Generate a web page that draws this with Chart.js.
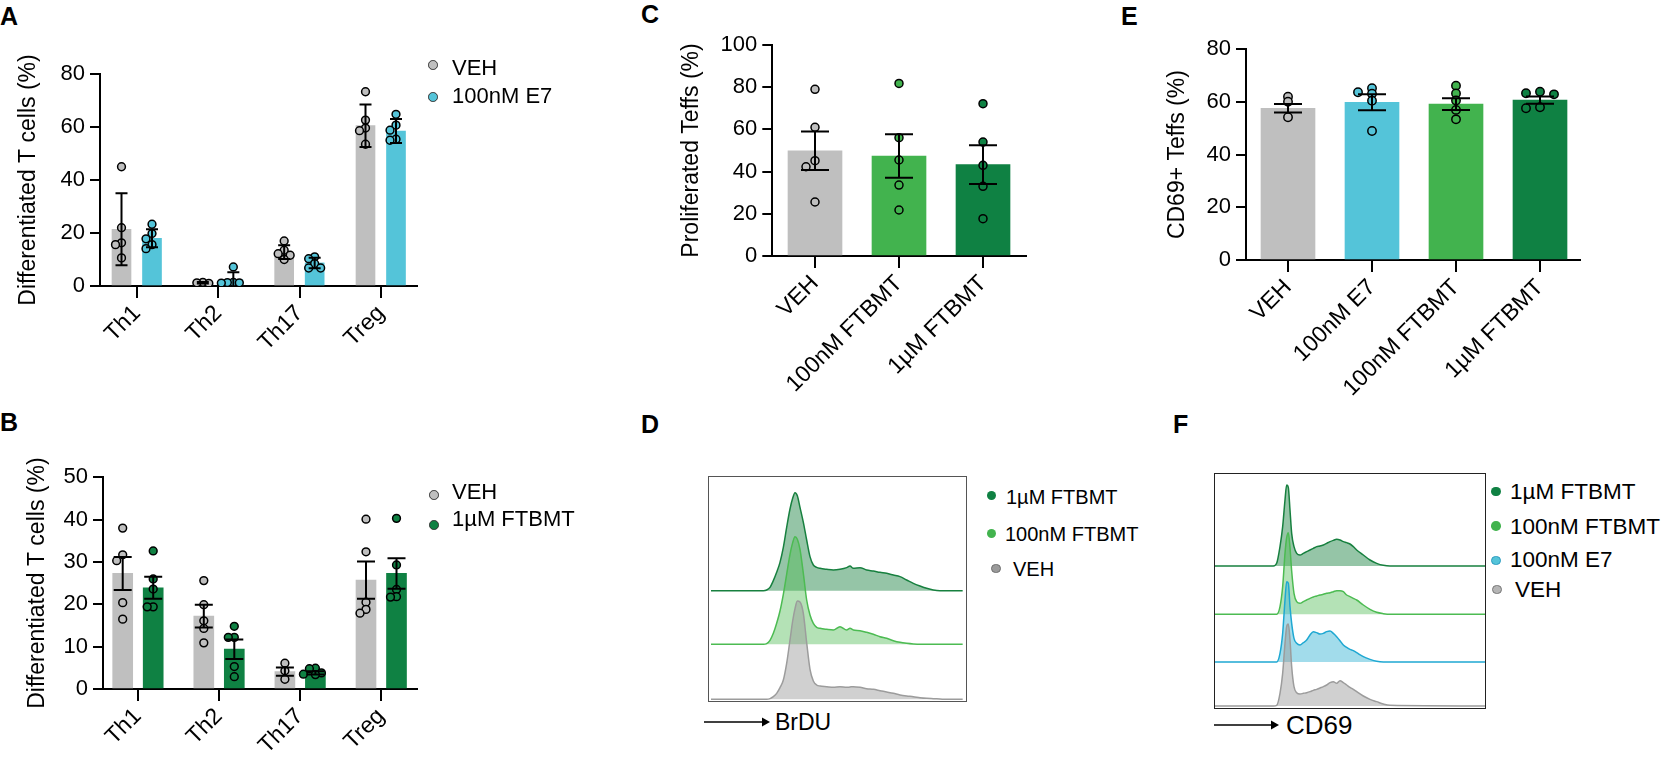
<!DOCTYPE html>
<html><head><meta charset="utf-8">
<script src="https://cdn.jsdelivr.net/npm/chart.js@4.4.1/dist/chart.umd.min.js"></script>
<style>
body{margin:0;background:#fff;width:1669px;height:761px;overflow:hidden;position:relative;font-family:'Liberation Sans',Arial,sans-serif;color:#000}
canvas{position:absolute}
.lbl{position:absolute;font-weight:bold;font-size:25px;line-height:25px}
.txt{position:absolute;white-space:nowrap}
.dot{position:absolute;border-radius:50%;box-sizing:border-box}
.box{position:absolute;box-sizing:border-box}
</style></head><body>
<div class="lbl" style="left:0px;top:3.5px">A</div>
<div class="lbl" style="left:0px;top:410px">B</div>
<div class="lbl" style="left:641px;top:1.5px">C</div>
<div class="lbl" style="left:641px;top:411.5px">D</div>
<div class="lbl" style="left:1121px;top:3.5px">E</div>
<div class="lbl" style="left:1173px;top:411.5px">F</div>
<svg style="position:absolute;left:0;top:0" width="1669" height="761">
  <line x1="704" y1="722" x2="764" y2="722" stroke="#000" stroke-width="1.6"/>
  <polygon points="762,717.5 770,722 762,726.5" fill="#000"/>
  <line x1="1214" y1="725" x2="1273" y2="725" stroke="#000" stroke-width="1.6"/>
  <polygon points="1271,720.5 1279,725 1271,729.5" fill="#000"/>
</svg>
<script>
Chart.defaults.font.family = "'Liberation Sans', Arial, sans-serif";
Chart.defaults.color = '#000';

// ---------------- DATA ----------------
const thCats = ['Th1', 'Th2', 'Th17', 'Treg'];
// Panel A (mean ± SD)
const aVehMean = [21.4, 1.2, 12.8, 60.5];
const aVehSD   = [13.6, 0.3, 2.6, 8.0];
const aVehPts  = [[45.0, 22.0, 16.3, 15.6, 10.6], [1.4, 1.2, 1.0], [17.0, 13.5, 12.2, 11.6, 10.0], [73.3, 62.6, 59.6, 58.6, 53.5]];
const aE7Mean  = [18.0, 2.4, 8.7, 58.5];
const aE7SD    = [3.4, 2.8, 2.0, 4.5];
const aE7Pts   = [[23.3, 19.8, 17.8, 15.6, 14.1], [7.2, 1.4, 1.3, 1.2, 1.1], [11.0, 10.3, 8.4, 6.8, 6.8], [64.8, 60.7, 58.8, 55.4, 55.0]];
// Panel B (mean ± SEM)
const bVehMean = [27.3, 17.2, 4.1, 25.7];
const bVehSEM  = [3.9, 2.7, 1.0, 4.4];
const bVehPts  = [[38.0, 31.7, 30.3, 20.4, 16.5], [25.6, 19.9, 16.1, 14.3, 10.9], [6.1, 4.3, 2.3], [40.1, 32.4, 20.5, 18.8, 17.9]];
const bFtMean  = [23.9, 9.4, 3.8, 27.3];
const bFtSEM   = [2.6, 2.3, 0.4, 3.6];
const bFtPts   = [[32.6, 26.0, 23.6, 19.4, 19.4], [14.8, 12.2, 12.2, 5.3, 2.9], [4.9, 4.8, 3.8, 3.5, 3.4], [40.3, 29.3, 23.5, 21.8, 21.7]];
// Panel C (mean ± SEM)
const cCats = ['VEH', '100nM FTBMT', '1µM FTBMT'];
const cMean = [49.9, 47.4, 43.3];
const cSEM  = [9.1, 10.3, 9.2];
const cPts  = [[79.0, 61.0, 45.2, 42.3, 25.6], [81.8, 56.1, 45.5, 33.6, 21.8], [72.2, 54.0, 43.0, 33.0, 17.7]];
// Panel E (mean ± SEM)
const eCats = ['VEH', '100nM E7', '100nM FTBMT', '1µM FTBMT'];
const eMean = [57.6, 59.9, 59.2, 60.7];
const eSEM  = [1.6, 3.0, 2.2, 1.4];
const ePts  = [[62.0, 60.1, 54.2], [65.2, 63.7, 63.1, 60.5, 49.0], [66.2, 63.2, 60.6, 57.0, 53.4], [63.9, 63.3, 62.9, 58.0, 57.6]];
// Panel D histograms (BrDU intensity, a.u.; counts)
const brduX    = [0,157,167,177,187,197,207,217,227,237,245,252,259,267,277,287,297,307,317,327,347,367,387,407,417,427,447,467,487,507,527,547,567,587,607,627,647,667,687,707,755];
const brduFt1  = [0,0,2,10,30,55,85,130,190,245,277,294,285,250,205,152,102,77,70,67,64,62,64,69,74,67,69,62,59,55,52,47,42,32,22,14,7,2,0,0,0];
const brduFt100= [0,0,2,12,33,63,100,150,210,270,305,323,315,285,213,133,88,63,51,48,45,43,53,43,48,43,41,36,30,23,18,11,6,3,1,0,0,0,0,0,0];
const brduVeh  = [0,0,0,2,8,18,35,58,108,178,235,272,295,292,258,170,90,55,43,40,38,36,38,36,37,38,36,32,30,26,22,18,13,10,8,5,3,2,1,0,0];
// Panel F histograms (CD69 intensity, a.u.; counts)
const cd69X    = [0,178,188,198,206,213,218,223,228,233,240,248,258,268,278,288,298,308,318,328,338,348,358,368,378,388,398,408,418,428,448,468,488,508,528,813];
const cd69Ft1  = [0,0,8,58,118,198,243,235,168,98,58,38,33,38,43,48,53,58,60,63,68,73,77,80,78,73,70,66,58,48,33,18,8,2,0,0];
const cd69Ft100= [0,0,0,23,83,183,230,245,200,130,63,38,33,38,43,48,52,55,58,60,63,65,68,71,71,68,58,53,48,43,28,15,6,2,0,0];
const cd69E7   = [0,0,0,26,86,186,241,236,166,116,71,56,51,58,66,81,91,88,84,86,91,93,86,76,64,51,44,38,34,28,16,8,2,0,0,0];
const cd69Veh  = [0,0,2,38,98,188,238,246,198,118,58,40,36,38,40,43,47,50,54,58,63,70,73,68,76,70,63,56,50,43,30,20,13,6,2,0];

// ---------------- STYLE ----------------
const GREY = '#BFBFBF', CYAN = '#54C4D9', LGREEN = '#42B34E', DGREEN = '#0F8143';

function swarm(points, ys, ppu, thr, step) {
  const placed = [];
  const idx = points.map((p, i) => i).sort((a, b) => points[b].y - points[a].y);
  for (const i of idx) {
    const p = points[i];
    const py = ys.getPixelForValue(p.y);
    let k = 0, off = 0;
    for (;;) {
      off = k === 0 ? 0 : (k % 2 ? -1 : 1) * Math.ceil(k / 2) * step;
      if (!placed.some(q => q.cx === p.cx && Math.hypot(q.off - off, q.py - py) < thr)) break;
      k++;
    }
    placed.push({cx: p.cx, off, py});
    p.x = p.cx + off / ppu;
  }
}

function barPanel(o) {
  const cv = document.createElement('canvas');
  cv.width = o.w; cv.height = o.h;
  cv.style.left = o.left + 'px'; cv.style.top = o.top + 'px';
  document.body.appendChild(cv);
  const n = o.cats.length;
  const unit = (o.lastTick - o.firstTick) / (n - 1);
  const xmin = -(o.firstTick - o.axisLeft) / unit;
  const xmax = (n - 1) + (o.axisRight - o.lastTick) / unit;
  const datasets = [], swarmSets = [], errSets = [];
  o.groups.forEach(g => {
    const off = g.offPx / unit;
    const col = i => Array.isArray(g.color) ? g.color[i] : g.color;
    datasets.push({type: 'bar', data: g.mean.map((m, i) => ({x: i + off, y: m})),
      backgroundColor: g.mean.map((m, i) => col(i)), barThickness: o.barW, grouped: false, order: 3, borderWidth: 0});
    const pts = [], pcol = [];
    g.pts.forEach((arr, i) => arr.forEach(v => { pts.push({x: i + off, y: v, cx: i + off}); pcol.push(col(i)); }));
    const sd = {type: 'scatter', data: pts, backgroundColor: pcol, borderColor: '#000', borderWidth: 1.5,
      pointRadius: o.ptR, pointHoverRadius: o.ptR, order: 2};
    datasets.push(sd); swarmSets.push(sd);
    const ed = {type: 'line', data: [], borderColor: '#000', borderWidth: 2, pointRadius: 0, fill: false,
      spanGaps: false, order: 1, tension: 0};
    datasets.push(ed); errSets.push({ds: ed, g, off});
  });
  const chart = new Chart(cv, {type: 'bar', data: {datasets}, options: {
    responsive: false, animation: false, events: [],
    layout: {padding: {left: 0, top: o.axisTop - o.top, right: o.left + o.w - o.axisRight, bottom: 0}},
    plugins: {legend: {display: false}, tooltip: {enabled: false}},
    scales: {
      x: {type: 'linear', min: xmin, max: xmax, offset: false,
        afterBuildTicks: s => { s.ticks = o.cats.map((c, i) => ({value: i})); },
        afterFit: s => { s.height = o.top + o.h - o.axisBottom; },
        grid: {display: true, drawOnChartArea: false, drawTicks: true, tickLength: 12, color: '#000', lineWidth: 2, offset: false},
        border: {display: true, color: '#000', width: 2},
        ticks: {callback: v => o.cats[v], minRotation: 45, maxRotation: 45, autoSkip: false,
          font: {size: 23}, color: '#000', padding: 2}},
      y: {type: 'linear', min: 0, max: o.ymax,
        ticks: {stepSize: o.ystep, font: {size: 22}, color: '#000', padding: 5},
        afterFit: s => { s.width = o.axisLeft - o.left; },
        grid: {display: true, drawOnChartArea: false, drawTicks: true, tickLength: 10, color: '#000', lineWidth: 2},
        border: {display: true, color: '#000', width: 2},
        title: {display: true, text: o.title, font: {size: 23}, color: '#000',
          padding: {top: o.titleX - o.left - 13.8, bottom: 0}}}
    }}});
  const xs = chart.scales.x, ys = chart.scales.y;
  const ppu = xs.getPixelForValue(1) - xs.getPixelForValue(0);
  swarmSets.forEach(ds => swarm(ds.data, ys, ppu, o.thr, o.step));
  errSets.forEach(({ds, g, off}) => {
    const w = o.capHalf / ppu, d = [];
    g.mean.forEach((m, i) => {
      const c = i + off, lo = m - g.err[i], hi = m + g.err[i];
      d.push({x: c, y: lo}, {x: c, y: hi}, {x: c, y: null},
             {x: c - w, y: hi}, {x: c + w, y: hi}, {x: c, y: null},
             {x: c - w, y: lo}, {x: c + w, y: lo}, {x: c, y: null});
    });
    ds.data = d;
  });
  chart.update('none');
}

function histPanel(o) {
  const box = document.createElement('div');
  box.className = 'box';
  Object.assign(box.style, {left: o.left + 'px', top: o.top + 'px', width: o.w + 'px', height: o.h + 'px',
    border: '1px solid ' + o.border});
  document.body.appendChild(box);
  const cv = document.createElement('canvas');
  cv.width = o.w - 2; cv.height = o.h - 2;
  cv.style.left = '0px'; cv.style.top = '0px';
  box.appendChild(cv);
  new Chart(cv, {type: 'line', data: {datasets: o.curves.map(c => ({
      data: o.x.map((x, i) => ({x, y: c.base + c.h[i]})),
      borderColor: c.line, backgroundColor: c.fill, fill: {value: c.base},
      borderWidth: 1.5, pointRadius: 0, cubicInterpolationMode: 'monotone'}))},
    options: {responsive: false, animation: false, events: [], layout: {padding: 0},
      plugins: {legend: {display: false}, tooltip: {enabled: false}},
      scales: {x: {type: 'linear', display: false, min: o.xmin, max: o.xmax},
               y: {type: 'linear', display: false, min: o.ymin, max: o.ymax}}}});
}

function legendItem(cx, cy, r, fill, border, text, tx, ty, size) {
  const d = document.createElement('div');
  d.className = 'dot';
  Object.assign(d.style, {left: (cx - r) + 'px', top: (cy - r) + 'px', width: 2 * r + 'px', height: 2 * r + 'px',
    background: fill, border: border ? ('1.5px solid ' + border) : 'none'});
  document.body.appendChild(d);
  const t = document.createElement('div');
  t.className = 'txt';
  Object.assign(t.style, {left: tx + 'px', top: (ty - 0.49 * size) + 'px', fontSize: size + 'px', lineHeight: size + 'px'});
  t.textContent = text;
  document.body.appendChild(t);
}

// ---------------- PANELS ----------------
barPanel({left: 0, top: 0, w: 440, h: 360, axisLeft: 100, axisRight: 417, axisTop: 74, axisBottom: 286,
  firstTick: 137, lastTick: 381, titleX: 29, ymax: 80, ystep: 20, barW: 19, capHalf: 6, ptR: 3.9, thr: 6, step: 6,
  title: 'Differentiated T cells (%)', cats: thCats,
  groups: [{mean: aVehMean, err: aVehSD, pts: aVehPts, color: GREY, offPx: -15.5},
           {mean: aE7Mean, err: aE7SD, pts: aE7Pts, color: CYAN, offPx: 15}]});

barPanel({left: 0, top: 400, w: 440, h: 360, axisLeft: 103, axisRight: 417, axisTop: 477.3, axisBottom: 689,
  firstTick: 137.7, lastTick: 381, titleX: 38, ymax: 50, ystep: 10, barW: 20, capHalf: 9, ptR: 3.9, thr: 6, step: 6,
  title: 'Differentiated T cells (%)', cats: thCats,
  groups: [{mean: bVehMean, err: bVehSEM, pts: bVehPts, color: GREY, offPx: -15},
           {mean: bFtMean, err: bFtSEM, pts: bFtPts, color: DGREEN, offPx: 15.5}]});

barPanel({left: 660, top: 0, w: 380, h: 400, axisLeft: 772.3, axisRight: 1026, axisTop: 45, axisBottom: 256,
  firstTick: 815, lastTick: 983, titleX: 692, ymax: 100, ystep: 20, barW: 54, capHalf: 14, ptR: 4.0, thr: 8, step: 9,
  title: 'Proliferated Teffs (%)', cats: cCats,
  groups: [{mean: cMean, err: cSEM, pts: cPts, color: [GREY, LGREEN, DGREEN], offPx: 0}]});

barPanel({left: 1140, top: 0, w: 460, h: 400, axisLeft: 1246, axisRight: 1580, axisTop: 49.3, axisBottom: 260,
  firstTick: 1288, lastTick: 1540, titleX: 1178, ymax: 80, ystep: 20, barW: 54, capHalf: 14, ptR: 4.2, thr: 4.8, step: 14,
  title: 'CD69+ Teffs (%)', cats: eCats,
  groups: [{mean: eMean, err: eSEM, pts: ePts, color: [GREY, CYAN, LGREEN, DGREEN], offPx: 0}]});

histPanel({left: 708, top: 476, w: 259, h: 226, border: '#555', x: brduX, xmin: -6, xmax: 765, ymin: 4, ymax: 676,
  curves: [
    {h: brduVeh, base: 9, line: '#9C9C9C', fill: 'rgba(150,150,150,0.45)'},
    {h: brduFt100, base: 174, line: '#4CBB52', fill: 'rgba(76,187,82,0.42)'},
    {h: brduFt1, base: 335, line: '#17803F', fill: 'rgba(23,128,63,0.46)'}]});

histPanel({left: 1214, top: 473, w: 272, h: 236, border: '#222', x: cd69X, xmin: 3, xmax: 813, ymin: 1, ymax: 703,
  curves: [
    {h: cd69Veh, base: 7, line: '#9C9C9C', fill: 'rgba(150,150,150,0.45)'},
    {h: cd69E7, base: 139, line: '#1FA8D2', fill: 'rgba(70,185,215,0.5)'},
    {h: cd69Ft100, base: 282, line: '#4CBB52', fill: 'rgba(76,187,82,0.42)'},
    {h: cd69Ft1, base: 427, line: '#17803F', fill: 'rgba(23,128,63,0.46)'}]});

// ---------------- LEGENDS / LABELS ----------------
legendItem(433, 65, 4.8, GREY, '#333', 'VEH', 452, 68, 22);
legendItem(433, 97, 4.8, CYAN, '#333', '100nM E7', 452, 95.5, 22);
legendItem(434, 495, 4.8, GREY, '#333', 'VEH', 452, 491.7, 22);
legendItem(434, 525, 4.8, DGREEN, '#333', '1µM FTBMT', 452, 519, 22);

legendItem(991.7, 495.7, 4.8, DGREEN, null, '1µM FTBMT', 1006, 496.7, 20);
legendItem(991.7, 533.3, 4.8, LGREEN, null, '100nM FTBMT', 1005, 533.3, 20);
legendItem(996, 568.3, 4.8, '#9A9A9A', '#6E6E6E', 'VEH', 1013, 569, 20);

legendItem(1496, 491.7, 4.8, DGREEN, null, '1µM FTBMT', 1510, 491.7, 22.5);
legendItem(1496, 526, 4.8, LGREEN, null, '100nM FTBMT', 1510, 527, 22.5);
legendItem(1496, 560.7, 4.8, CYAN, '#2E9CC0', '100nM E7', 1510, 560, 22.5);
legendItem(1497, 589.3, 4.8, '#B5B5B5', '#777', 'VEH', 1515, 590, 22.5);

(function () {
  const a = document.createElement('div'); a.className = 'txt';
  Object.assign(a.style, {left: '775px', top: (722 - 0.49 * 23) + 'px', fontSize: '23px', lineHeight: '23px'});
  a.textContent = 'BrDU'; document.body.appendChild(a);
  const b = document.createElement('div'); b.className = 'txt';
  Object.assign(b.style, {left: '1286px', top: (725 - 0.49 * 26) + 'px', fontSize: '26px', lineHeight: '26px'});
  b.textContent = 'CD69'; document.body.appendChild(b);
})();
</script>
</body></html>
